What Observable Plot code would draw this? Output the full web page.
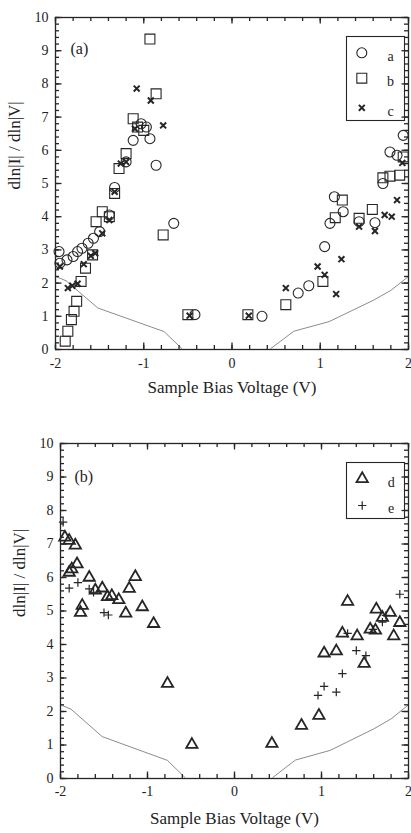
<!DOCTYPE html>
<html><head><meta charset="utf-8">
<script src="https://cdn.jsdelivr.net/npm/d3@7"></script>
<script src="https://cdn.jsdelivr.net/npm/@observablehq/plot@0.6"></script>
<style>
body{margin:0;background:#fff;}
#chart{width:411px;}
#chart svg{display:block;}
</style></head><body><div id="chart"></div>
<script>
// ---- tick labels ----
const xTickValues = [-2, -1, 0, 1, 2];
const yTickValues = [0, 1, 2, 3, 4, 5, 6, 7, 8, 9, 10];
const xLabel = "Sample Bias Voltage (V)";
const yLabel = "dln|I| / dln|V|";

// ---- gray reference curve (same in both panels) ----
const curveLeft = [[-2, 2.2], [-1.88, 2.07], [-1.52, 1.25], [-0.77, 0.54], [-0.57, 0.03]];
const curveRight = [[0.44, 0.03], [0.7, 0.55], [1.1, 0.84], [1.6, 1.48], [1.8, 1.78], [2, 2.2]];

// ---- panel (a) ----
const seriesA = [ // circles
  [-1.96, 2.95], [-1.95, 2.6], [-1.87, 2.7], [-1.8, 2.8], [-1.75, 2.95], [-1.7, 3.05],
  [-1.63, 3.2], [-1.57, 3.35], [-1.5, 3.55], [-1.39, 4.05], [-1.33, 4.88], [-1.2, 5.65],
  [-1.12, 6.3], [-1.03, 6.8], [-0.97, 6.7], [-0.93, 6.35], [-0.86, 5.55], [-0.66, 3.8],
  [-0.42, 1.05], [0.34, 1.0], [0.75, 1.7], [0.87, 1.92], [1.05, 3.1], [1.11, 3.8],
  [1.16, 4.6], [1.26, 4.15], [1.44, 3.85], [1.62, 3.82], [1.71, 5.0], [1.79, 5.95],
  [1.87, 5.85], [1.94, 6.45]
];
const seriesB = [ // squares
  [-1.89, 0.25], [-1.86, 0.55], [-1.82, 0.9], [-1.79, 1.15], [-1.76, 1.45], [-1.71, 2.05],
  [-1.66, 2.45], [-1.58, 2.85], [-1.54, 3.85], [-1.47, 4.15], [-1.39, 4.0], [-1.33, 4.7],
  [-1.28, 5.45], [-1.2, 5.9], [-1.12, 6.95], [-1.07, 6.7], [-1.0, 6.6], [-0.93, 9.35],
  [-0.86, 7.7], [-0.78, 3.45], [-0.5, 1.05], [0.18, 1.05], [0.61, 1.35], [1.03, 2.05],
  [1.17, 3.97], [1.25, 4.5], [1.44, 3.95], [1.59, 4.22], [1.71, 5.17], [1.79, 5.22],
  [1.9, 5.25], [1.94, 5.8]
];
const seriesC = [ // crosses
  [-1.95, 2.5], [-1.86, 1.85], [-1.81, 1.92], [-1.75, 1.98], [-1.68, 2.57], [-1.6, 2.82],
  [-1.55, 2.9], [-1.47, 3.5], [-1.39, 3.9], [-1.33, 4.75], [-1.26, 5.6], [-1.2, 5.65],
  [-1.1, 6.65], [-1.08, 7.86], [-0.92, 7.5], [-0.78, 6.75], [-0.48, 1.02], [0.19, 1.02],
  [0.61, 1.85], [0.97, 2.5], [1.05, 2.25], [1.18, 1.67], [1.24, 2.72], [1.44, 3.7],
  [1.62, 3.57], [1.73, 4.05], [1.81, 4.0], [1.87, 4.5], [1.93, 5.62]
];

// ---- panel (b) ----
const seriesD = [ // triangles
  [-1.95, 7.2], [-1.9, 7.1], [-1.83, 6.96], [-1.9, 6.15], [-1.87, 6.25], [-1.81, 6.4],
  [-1.67, 6.0], [-1.6, 5.62], [-1.52, 5.68], [-1.46, 5.42], [-1.41, 5.45], [-1.33, 5.33],
  [-1.75, 5.16], [-1.77, 4.95], [-1.25, 4.93], [-1.21, 5.67], [-1.14, 6.02], [-1.06, 5.12],
  [-0.93, 4.62], [-0.77, 2.83], [-0.49, 1.01], [0.43, 1.04], [0.77, 1.58], [0.97, 1.88],
  [1.03, 3.74], [1.17, 3.8], [1.24, 4.33], [1.41, 4.25], [1.49, 3.43], [1.3, 5.28],
  [1.56, 4.45], [1.62, 4.42], [1.63, 5.05], [1.7, 4.8], [1.79, 4.95], [1.9, 4.65], [1.83, 4.25]
];
const seriesE = [ // plus
  [-1.97, 7.65], [-1.9, 5.68], [-1.8, 5.85], [-1.67, 5.66], [-1.62, 5.56], [-1.5, 4.95],
  [-1.45, 4.88], [0.96, 2.48], [1.03, 2.75], [1.17, 2.58], [1.24, 3.13], [1.3, 4.33],
  [1.4, 3.82], [1.51, 3.67], [1.59, 4.45], [1.7, 4.67], [1.74, 4.87], [1.9, 5.5]
];

const legendA = ["a", "b", "c"];
const legendB = ["d", "e"];

const INK = "#262626";
const symStyle = {
  circle: {symbol: "circle", r: 5, stroke: INK, strokeWidth: 1.1, fill: "none"},
  square: {symbol: "square", r: 5.6, stroke: INK, strokeWidth: 1.1, fill: "none"},
  times: {symbol: "times", r: 2.8, stroke: INK, strokeWidth: 2, fill: "none"},
  triangle: {symbol: "triangle", r: 4.2, stroke: INK, strokeWidth: 1.8, fill: "none"},
  plus: {symbol: "plus", r: 2.8, stroke: INK, strokeWidth: 1.2, fill: "none"}
};

const X0 = -2, X1 = 2, Y0 = 0, Y1 = 10;

// inward ticks on all four sides; lengths converted from pixels to data units
function inwardTicks(xs, ys, lenPx, innerW, innerH) {
  const dx = lenPx * (X1 - X0) / innerW;
  const dy = lenPx * (Y1 - Y0) / innerH;
  const st = {stroke: INK, strokeWidth: 1.3};
  return [
    Plot.ruleX(xs, {x: d => d, y1: Y0, y2: Y0 + dy, ...st}),
    Plot.ruleX(xs, {x: d => d, y1: Y1 - dy, y2: Y1, ...st}),
    Plot.ruleY(ys, {y: d => d, x1: X0, x2: X0 + dx, ...st}),
    Plot.ruleY(ys, {y: d => d, x1: X1 - dx, x2: X1, ...st})
  ];
}

function panel({height, mt, mb, ml, mr, tickPad, labelDy, tag, tagDx, tagDy, series, legend}) {
  const W = 411;
  const innerH = height - mt - mb;
  const innerW = W - ml - mr;
  const minorX = d3.range(-20, 21, 2).map(v => v / 10);
  const minorY = d3.range(0, 101, 2).map(v => v / 10);
  const marks = [
    Plot.line(curveLeft, {x: d => d[0], y: d => d[1], stroke: "#8c8c8c", strokeWidth: 1}),
    Plot.line(curveRight, {x: d => d[0], y: d => d[1], stroke: "#8c8c8c", strokeWidth: 1}),
    ...inwardTicks(minorX, minorY, 4, innerW, innerH),
    ...inwardTicks(xTickValues, yTickValues, 6.5, innerW, innerH),
    Plot.frame({stroke: INK, strokeWidth: 1.3}),
    Plot.axisX(xTickValues, {tickSize: 0, tickPadding: tickPad, tickFormat: d => String(d), label: null, fontSize: 14}),
    Plot.axisY(yTickValues, {tickSize: 0, tickPadding: 7, tickFormat: d => String(d), label: null, fontSize: 14}),
  ];
  for (const s of series) {
    marks.push(Plot.dot(s.data, {x: d => d[0], y: d => d[1], ...symStyle[s.symbol]}));
  }
  // legend box and entries
  marks.push(Plot.frame({stroke: INK, strokeWidth: 1.1, insetLeft: legend.left, insetRight: legend.right, insetTop: legend.top, insetBottom: innerH - legend.bottom}));
  legend.items.forEach((it, i) => {
    marks.push(Plot.dot([it.name], {frameAnchor: "top-right", dx: legend.symDx, dy: legend.dys[i], ...symStyle[it.symbol]}));
    marks.push(Plot.text([it.name], {frameAnchor: "top-right", dx: legend.txtDx, dy: legend.dys[i] - 2, text: d => d, fontSize: 14, textAnchor: "middle"}));
  });
  marks.push(Plot.text([tag], {frameAnchor: "top-left", dx: tagDx, dy: tagDy, text: d => d, textAnchor: "start", fontSize: 16}));
  marks.push(Plot.text([xLabel], {frameAnchor: "bottom", dy: labelDy, text: d => d, fontSize: 17}));
  marks.push(Plot.text([yLabel], {frameAnchor: "left", dx: -41, dy: 6, rotate: -90, text: d => d, fontSize: 17}));
  return Plot.plot({
    width: W, height,
    marginTop: mt, marginBottom: mb, marginLeft: ml, marginRight: mr,
    x: {domain: [X0, X1]},
    y: {domain: [Y0, Y1]},
    style: {fontFamily: "'Liberation Serif', 'DejaVu Serif', serif", fontSize: "14px", color: "#222", background: "#fff"},
    marks
  });
}

const chart = document.getElementById("chart");
chart.append(panel({
  height: 408, mt: 17, mb: 59, ml: 55, mr: 3, tickPad: 9, labelDy: 43,
  tag: "(a)", tagDx: 15, tagDy: 25,
  series: [
    {data: seriesA, symbol: "circle"},
    {data: seriesB, symbol: "square"},
    {data: seriesC, symbol: "times"}
  ],
  legend: {
    left: 291, right: 4, top: 19, bottom: 103, symDx: -46.7, txtDx: -18, dys: [35.3, 60.7, 90.3],
    items: [{name: legendA[0], symbol: "circle"}, {name: legendA[1], symbol: "square"}, {name: legendA[2], symbol: "times"}]
  }
}));
chart.append(panel({
  height: 425, mt: 35, mb: 55, ml: 60, mr: 3, tickPad: 8, labelDy: 45,
  tag: "(b)", tagDx: 14, tagDy: 27,
  series: [
    {data: seriesD, symbol: "triangle"},
    {data: seriesE, symbol: "plus"}
  ],
  legend: {
    left: 286, right: 4, top: 19, bottom: 75, symDx: -46.3, txtDx: -17.3, dys: [35.3, 62],
    items: [{name: legendB[0], symbol: "triangle"}, {name: legendB[1], symbol: "plus"}]
  }
}));
</script>
</body></html>
